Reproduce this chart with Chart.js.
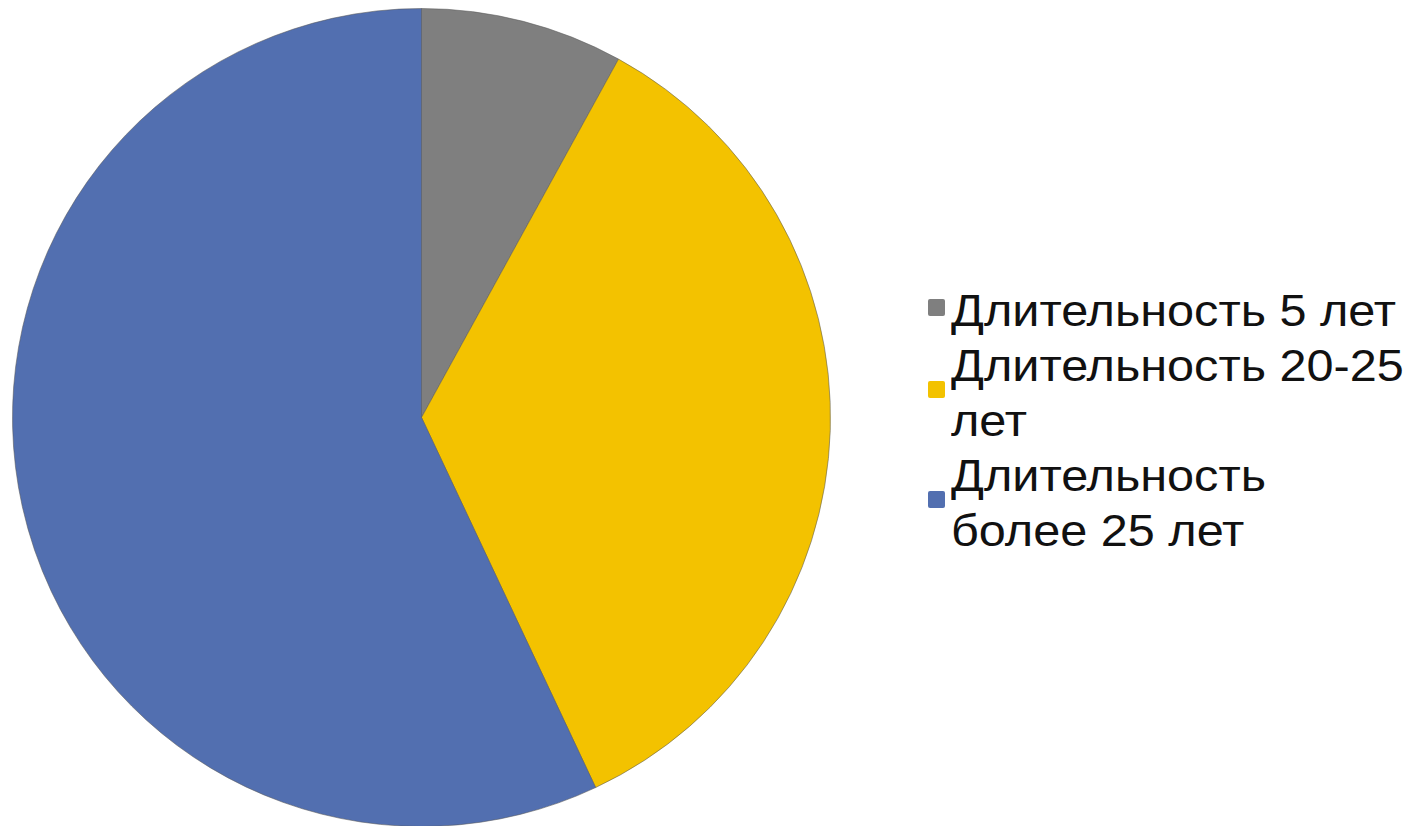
<!DOCTYPE html>
<html><head><meta charset="utf-8">
<script src="https://cdn.jsdelivr.net/npm/chart.js@4"></script>
<style>
html,body{margin:0;padding:0;background:#fff;width:1412px;height:826px;overflow:hidden;}
#wrap{position:absolute;left:12px;top:8px;width:819px;height:819px;}
#legend{position:absolute;left:928px;top:283px;font-family:"Liberation Sans",Arial,sans-serif;font-size:45px;line-height:55px;color:#111;}
.item{position:relative;padding-left:23px;}
.txt{transform:scaleX(1.08);transform-origin:0 0;white-space:nowrap;}
.sw{position:absolute;left:0;width:17px;height:17px;top:50%;margin-top:-12px;border-radius:2px;}
</style></head>
<body>
<div id="wrap"><canvas id="c"></canvas></div>
<div id="legend"></div>
<script>
const categories = ["Длительность 5 лет", "Длительность 20-25 лет", "Длительность более 25 лет"];
const legendLines = [["Длительность 5 лет"], ["Длительность 20-25", "лет"], ["Длительность", "более 25 лет"]];
const values = [8, 35, 57];
const colors = ["#7f7f7f", "#f3c200", "#526fb0"];

new Chart(document.getElementById('c'), {
  type: 'pie',
  data: { labels: categories, datasets: [{ data: values, backgroundColor: colors, borderColor: 'rgba(90,90,90,0.55)', borderWidth: 1 }] },
  options: {
    responsive: true, maintainAspectRatio: false, animation: false,
    layout: { padding: 0 },
    plugins: { legend: { display: false }, tooltip: { enabled: false } }
  }
});

const lg = document.getElementById('legend');
legendLines.forEach((lines, i) => {
  const d = document.createElement('div');
  d.className = 'item';
  const s = document.createElement('span');
  s.className = 'sw'; s.style.background = colors[i];
  d.appendChild(s);
  lines.forEach(t => { const l = document.createElement('div'); l.className = 'txt'; l.textContent = t; d.appendChild(l); });
  lg.appendChild(d);
});
</script>
</body></html>
